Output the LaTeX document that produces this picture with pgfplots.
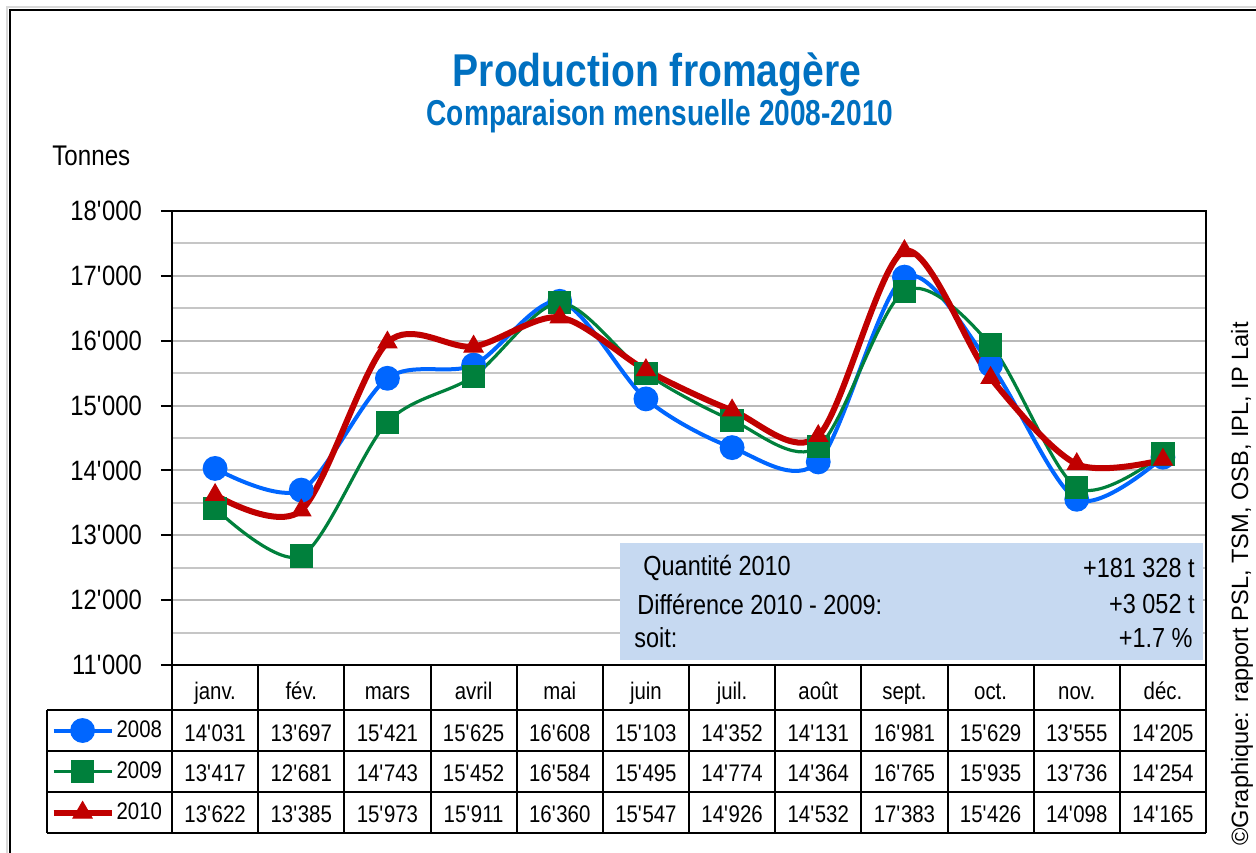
\documentclass[border=0pt]{standalone}
\usepackage{fontspec}
\setmainfont{Liberation Sans}[FakeStretch=0.85]
\newfontfamily\widefont{Liberation Sans}
\newfontfamily\subfont{Liberation Sans}[FakeStretch=0.78]
\usepackage{pgfplots}
\pgfplotsset{compat=1.18}
\definecolor{c08}{RGB}{0,102,255}
\definecolor{c09}{RGB}{0,128,60}
\definecolor{c10}{RGB}{192,0,0}
\definecolor{ttl}{RGB}{0,112,192}
\definecolor{boxc}{RGB}{198,217,241}
\newcommand\fs[1]{\fontsize{#1}{#1}\selectfont}
\pgfkeys{/pgf/number format/.cd, fixed, precision=0, 1000 sep={\textquotesingle}, assume math mode=true}
\begin{document}
\begin{tikzpicture}
\begin{scope}[x=0.5pt,y=-0.5pt]
\draw[gray!30, line width=0.6pt] (7,860) -- (7,7) -- (1260,7);
\draw[black, line width=1.2pt] (10,860) -- (10,10) -- (1260,10);
\end{scope}
\begin{axis}[
  at={(86pt,-332.5pt)}, anchor=south west,
  scale only axis, width=517pt, height=227pt,
  xmin=-0.5, xmax=11.5, ymin=11000, ymax=18000,
  xtick=\empty,
  ytick={11000,12000,...,18000},
  minor ytick={11500,12500,...,17500},
  ytick pos=left,
  scaled y ticks=false,
  ymajorgrids, yminorgrids,
  major grid style={gray!55, line width=1pt},
  minor grid style={gray!45, line width=1pt},
  tick align=outside, major tick length=5.5pt, minor tick length=0pt,
  tick style={black, line width=1pt},
  axis line style={line width=1pt},
  y tick label style={font=\fs{14}, xshift=-6pt},
  legend style={at={(axis description cs:-0.0097,-0.0991)}, anchor=north east,
    draw=none, fill=none, inner sep=0pt, outer sep=0pt, row sep=0pt,
    font=\fs{12}, column sep=1pt,
    nodes={minimum height=20.5pt, inner sep=0pt, outer sep=0pt}},
  legend cell align=left,
  legend image code/.code={\draw[mark repeat=2,mark phase=2,#1] plot coordinates {(0pt,0pt) (14.5pt,0pt) (29pt,0pt)};},
]
\addplot[c08, line width=2pt, smooth, mark=*, mark size=5.2pt, mark options={solid}] coordinates {
(0,14031) (1,13697) (2,15421) (3,15625) (4,16608) (5,15103) (6,14352) (7,14131) (8,16981) (9,15629) (10,13555) (11,14205)};
\addlegendentry{2008}
\addplot[c09, line width=1.6pt, smooth, mark=square*, mark size=5pt, mark options={solid}] coordinates {
(0,13417) (1,12681) (2,14743) (3,15452) (4,16584) (5,15495) (6,14774) (7,14364) (8,16765) (9,15935) (10,13736) (11,14254)};
\addlegendentry{2009}
\addplot[c10, line width=3pt, smooth, mark=triangle*, mark size=5.5pt, mark options={solid, line width=0.5pt}] coordinates {
(0,13622) (1,13385) (2,15973) (3,15911) (4,16360) (5,15547) (6,14926) (7,14532) (8,17383) (9,15426) (10,14098) (11,14165)};
\addlegendentry{2010}
\end{axis}
\begin{scope}[x=0.5pt,y=-0.5pt]
% titles
\node[font=\fs{23}\bfseries, text=ttl, anchor=base] at (657,86) {Production fromagère};
\node[font=\subfont\fs{18}\bfseries, text=ttl, anchor=base] at (660,125) {Comparaison mensuelle 2008-2010};
\node[font=\fs{14.2}, anchor=west, inner sep=0] at (52,156) {Tonnes};
% info box
\fill[boxc] (620,543) rectangle (1203,660);
\node[font=\fs{13.8}, anchor=west, inner sep=0] at (643,568) {Quantité 2010};
\node[font=\fs{13.8}, anchor=west, inner sep=0] at (637,604) {Différence 2010 - 2009:};
\node[font=\fs{13.8}, anchor=west, inner sep=0] at (634,638) {soit:};
\node[font=\fs{13.8}, anchor=east, inner sep=0] at (1195,568) {+181 328 t};
\node[font=\fs{13.8}, anchor=east, inner sep=0] at (1195,604) {+3 052 t};
\node[font=\fs{13.8}, anchor=east, inner sep=0] at (1193,638) {+1.7 \%};
% data table grid
\begin{scope}[line width=1pt]
\foreach \k in {0,...,12} \draw ({172+\k*86.1667},665) -- ({172+\k*86.1667},833);
\draw (47,710) -- (47,833);
\foreach \yy in {710,751,792,833} \draw (47,\yy) -- (1206,\yy);
\end{scope}
\foreach \m [count=\i from 0] in {janv.,fév.,mars,avril,mai,juin,juil.,août,sept.,oct.,nov.,déc.}
  \node[font=\fs{12}, anchor=base, inner sep=0] at ({172+(\i+0.5)*86.1667},699) {\m};
\foreach \v [count=\i from 0] in {14031,13697,15421,15625,16608,15103,14352,14131,16981,15629,13555,14205}
  \node[font=\fs{12}, anchor=base, inner sep=0] at ({172+(\i+0.5)*86.1667},741) {\pgfmathprintnumber{\v}};
\foreach \v [count=\i from 0] in {13417,12681,14743,15452,16584,15495,14774,14364,16765,15935,13736,14254}
  \node[font=\fs{12}, anchor=base, inner sep=0] at ({172+(\i+0.5)*86.1667},781.5) {\pgfmathprintnumber{\v}};
\foreach \v [count=\i from 0] in {13622,13385,15973,15911,16360,15547,14926,14532,17383,15426,14098,14165}
  \node[font=\fs{12}, anchor=base, inner sep=0] at ({172+(\i+0.5)*86.1667},822) {\pgfmathprintnumber{\v}};
% credit
\node[font=\widefont\fs{11.8}, rotate=90, anchor=base west, inner sep=0] at (1248,846) {©Graphique: rapport PSL, TSM, OSB, IPL, IP Lait};
% fix the page size
\pgfresetboundingbox
\useasboundingbox (0,0) rectangle (1256,852);
\end{scope}
\end{tikzpicture}
\end{document}
